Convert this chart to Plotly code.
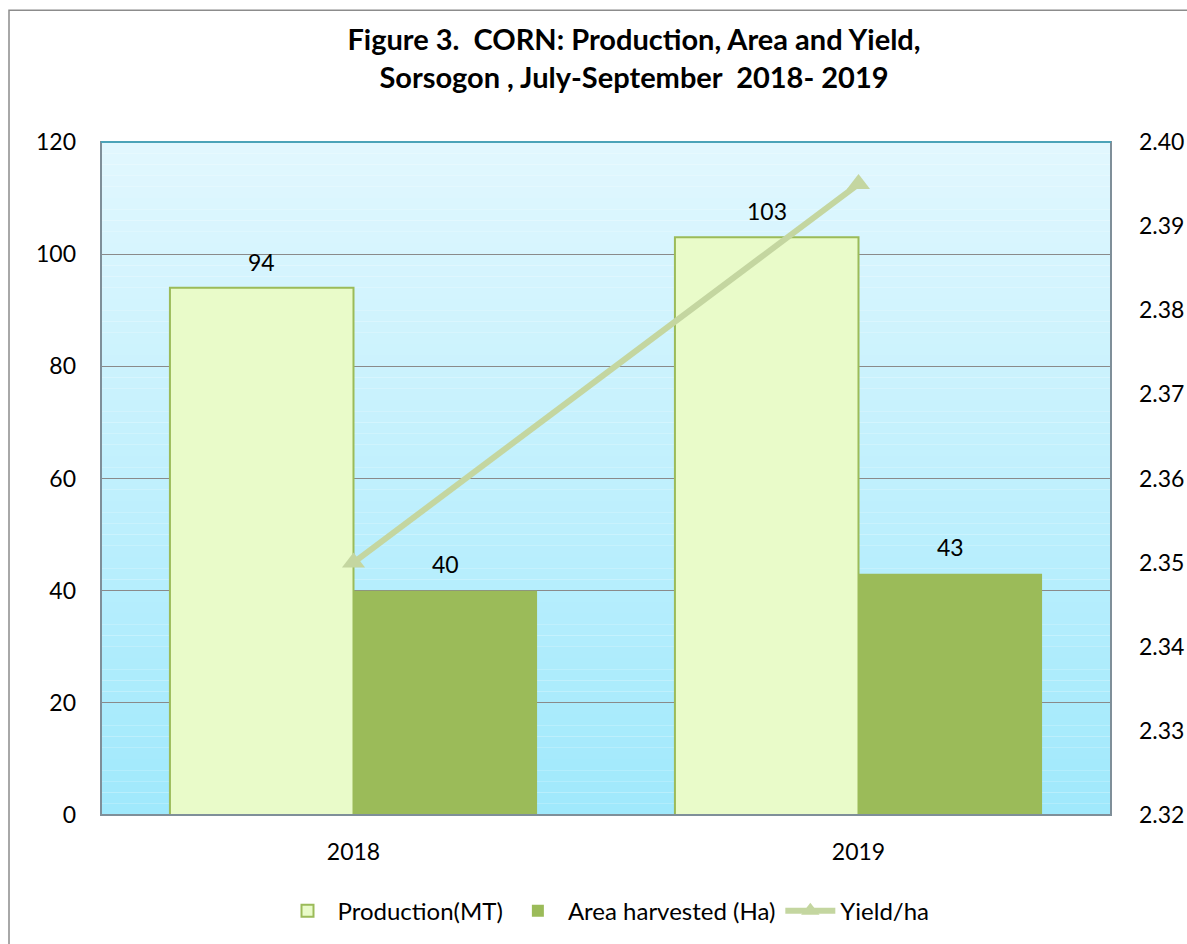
import plotly.graph_objects as go

years = ["2018", "2019"]
production = [94, 103]
area = [40, 43]
yield_ha = [2.35, 2.395]

FONT = "Lato"
BARGAP = 0.273

fig = go.Figure()
fig.add_trace(go.Bar(
    x=years, y=production, name="Production(MT)",
    marker=dict(color="#E9FBC9", line=dict(color="#9BBB59", width=2)),
))
fig.add_trace(go.Bar(
    x=years, y=area, name="Area harvested (Ha)",
    marker=dict(color="#9BBB59", line=dict(width=0)),
))
fig.add_trace(go.Scatter(
    x=years, y=yield_ha, name="Yield/ha", yaxis="y2",
    mode="lines+markers",
    line=dict(color="#C4D6A0", width=6),
    marker=dict(symbol="triangle-up", size=20, color="#C4D6A0"),
    cliponaxis=False,
))

# value labels above bars (positioned from the data arrays)
half = (1 - BARGAP) / 4
annotations = []
for i, (p, a) in enumerate(zip(production, area)):
    annotations.append(dict(x=i - half, y=p, xref="x", yref="y", text=str(p),
                            showarrow=False, yanchor="middle", yshift=26,
                            font=dict(size=23, family=FONT, color="black")))
    annotations.append(dict(x=i + half, y=a, xref="x", yref="y", text=str(a),
                            showarrow=False, yanchor="middle", yshift=27,
                            font=dict(size=23, family=FONT, color="black")))

# gradient plot background via thin stacked rectangles
shapes = []
n = 60
top = (225, 247, 254)
bot = (160, 233, 252)
for i in range(n):
    t = i / (n - 1)
    c = tuple(int(round(top[k] + (bot[k] - top[k]) * t)) for k in range(3))
    shapes.append(dict(type="rect", xref="paper", yref="paper",
                       x0=0, x1=1, y0=1 - (i + 1) / n, y1=1 - i / n,
                       fillcolor="rgb(%d,%d,%d)" % c, line=dict(width=0),
                       layer="below"))
# plot border
shapes.append(dict(type="rect", xref="paper", yref="paper", x0=0, x1=1, y0=0, y1=1,
                   line=dict(color="#7F8F99", width=2), layer="above"))
shapes.append(dict(type="line", xref="paper", yref="paper", x0=0, x1=1, y0=1, y1=1,
                   line=dict(color="#4BA3B8", width=2), layer="above"))
# outer chart border
shapes.append(dict(type="rect", xref="paper", yref="paper",
                   x0=-92/1010, x1=1.2, y0=-1.0, y1=1 + 132/674,
                   line=dict(color="#8C8C8C", width=1.5), layer="above"))

fig.update_layout(
    width=1187, height=944,
    margin=dict(l=101, r=76, t=142, b=128),
    paper_bgcolor="white",
    plot_bgcolor="rgba(0,0,0,0)",
    font=dict(family=FONT, size=23, color="black"),
    barmode="group",
    bargap=BARGAP,
    bargroupgap=0,
    title=dict(
        text="<b>Figure 3.  CORN: Production, Area and Yield,<br>Sorsogon , July-September  2018- 2019</b>",
        x=634/1187, xanchor="center", y=1 - 50/944, yanchor="top",
        font=dict(size=29, family=FONT, color="black"),
    ),
    xaxis=dict(showgrid=False, showline=False, ticks="", tickfont=dict(size=23),
               ticklabelstandoff=21, automargin=False),
    yaxis=dict(range=[0, 120], dtick=20, showgrid=True, gridcolor="#8A8A8A",
               gridwidth=1, zeroline=False, showline=False, ticks="",
               tickfont=dict(size=23), ticklabelstandoff=24, automargin=False),
    yaxis2=dict(range=[2.32, 2.40], dtick=0.01, tickformat=".2f", overlaying="y",
                side="right", showgrid=False, zeroline=False, showline=False,
                ticks="", tickfont=dict(size=23), ticklabelstandoff=27,
                automargin=False),
    legend=dict(orientation="h", x=0.5, xanchor="center", y=-0.141, yanchor="middle",
                font=dict(size=24), itemwidth=50, traceorder="normal"),
    shapes=shapes,
    annotations=annotations,
)

fig.write_html("out.html",
               config={"displayModeBar": False},
               post_script="document.body.style.margin='0';"
                           "document.body.style.overflow='hidden';")
